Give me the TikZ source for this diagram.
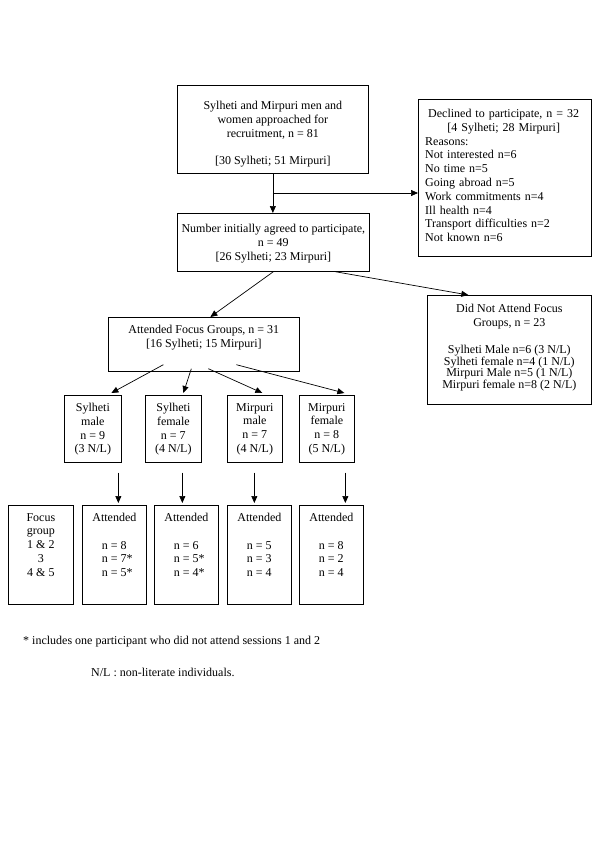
\documentclass[tikz,border=0pt]{standalone}
\usepackage{fontspec}
\setmainfont{Liberation Serif}
\usetikzlibrary{positioning,arrows.meta}
\begin{document}
\begin{tikzpicture}[x=1pt,y=1pt]
\tikzstyle{every node}+=[inner sep=0pt]
\tikzstyle{box}=[draw=black, line width=0.7pt, anchor=north west]
\tikzstyle{txt}=[align=center, font=\fontsize{12}{13.8}\selectfont]
\tikzstyle{arr}=[black, line width=0.7pt, -{Triangle[length=7pt,width=6pt]}]
\path[use as bounding box, fill=white] (0,0) rectangle (600,-849);
% recruitment
\node [box, minimum width=191pt, minimum height=88pt] (approached) at (177,-85) {};
\node [txt, below=16pt of approached.north] (approachedtxt) {Sylheti and Mirpuri men and\\women approached for\\recruitment, n = 81\\[13.8pt]{[30 Sylheti; 51 Mirpuri]}};
\node [box, minimum width=173pt, minimum height=157pt] (declined) at (418,-99) {};
\node [txt, align=left, text width=157pt, below right=10pt and 7pt of declined.north west] (declinedtxt) {{\centering Declined to participate, n = 32\\{[4 Sylheti; 28 Mirpuri]}\par}Reasons:\\Not interested n=6\\No time n=5\\Going abroad n=5\\Work commitments n=4\\Ill health n=4\\Transport difficulties n=2\\Not known n=6};
\node [box, minimum width=192pt, minimum height=58pt] (agreed) at (177,-213) {};
\node [txt, below=11pt of agreed.north] (agreedtxt) {Number initially agreed to participate,\\n = 49\\{[26 Sylheti; 23 Mirpuri]}};
% attendance
\node [box, minimum width=191pt, minimum height=54pt] (attended) at (108,-317) {};
\node [txt, below=8pt of attended.north] (attendedtxt) {Attended Focus Groups, n = 31\\{[16 Sylheti; 15 Mirpuri]}};
\node [box, minimum width=164pt, minimum height=109pt] (absent) at (427,-295) {};
\node [txt, below=9pt of absent.north] (absenttxt) {Did Not Attend Focus\\Groups, n = 23\\[13.8pt]Sylheti Male n=6 (3 N/L)\\[-2.4pt]Sylheti female n=4 (1 N/L)\\[-2.4pt]Mirpuri Male n=5 (1 N/L)\\[-2.4pt]Mirpuri female n=8 (2 N/L)};
% groups
\node [box, minimum width=57pt, minimum height=67pt] (symale) at (64,-395) {};
\node [txt, below=8pt of symale.north] (symaletxt) {Sylheti\\male\\n = 9\\(3 N/L)};
\node [box, minimum width=56pt, minimum height=67pt] (syfemale) at (145,-395) {};
\node [txt, below=8pt of syfemale.north] (syfemaletxt) {Sylheti\\female\\n = 7\\(4 N/L)};
\node [box, minimum width=55pt, minimum height=67pt] (mimale) at (227,-395) {};
\node [txt, below=8pt of mimale.north] (mimaletxt) {Mirpuri\\male\\n = 7\\(4 N/L)};
\node [box, minimum width=55pt, minimum height=67pt] (mifemale) at (299,-395) {};
\node [txt, below=8pt of mifemale.north] (mifemaletxt) {Mirpuri\\female\\n = 8\\(5 N/L)};
% sessions
\node [box, minimum width=65pt, minimum height=99pt] (focus) at (8,-505) {};
\node [txt, below=8pt of focus.north] (focustxt) {Focus\\group\\1 \& 2\\3\\4 \& 5};
\node [box, minimum width=64pt, minimum height=99pt] (att1) at (82,-505) {};
\node [txt, below=8pt of att1.north] (att1txt) {Attended\\[13.8pt]n = 8\\n = 7\rlap{*}\\n = 5\rlap{*}};
\node [box, minimum width=64pt, minimum height=99pt] (att2) at (154,-505) {};
\node [txt, below=8pt of att2.north] (att2txt) {Attended\\[13.8pt]n = 6\\n = 5\rlap{*}\\n = 4\rlap{*}};
\node [box, minimum width=64pt, minimum height=99pt] (att3) at (227,-505) {};
\node [txt, below=8pt of att3.north] (att3txt) {Attended\\[13.8pt]n = 5\\n = 3\\n = 4};
\node [box, minimum width=64pt, minimum height=99pt] (att4) at (299,-505) {};
\node [txt, below=8pt of att4.north] (att4txt) {Attended\\[13.8pt]n = 8\\n = 2\\n = 4};
% notes
\node [txt, anchor=base west] (starnote) at (23,-644) {* includes one participant who did not attend sessions 1 and 2};
\node [txt, anchor=base west] (nlnote) at (91,-676) {N/L : non-literate individuals.};
% arrows
\coordinate (fork) at (approached.south |- 0,-193);
\draw [arr] (approached.south) -- (approached.south |- agreed.north);
\draw [arr] (fork) -- (fork -| declined.west);
\draw [arr] (agreed.south) -- ([xshift=6.5pt]attended.north);
\draw [arr] ([xshift=62pt]agreed.south) -- ([xshift=-41pt]absent.north);
\draw [arr] ([shift={(-40.5pt,7pt)}]attended.south) -- ([shift={(18.5pt,2pt)}]symale.north);
\draw [arr] ([shift={(-12.5pt,3pt)}]attended.south) -- ([shift={(10pt,2pt)}]syfemale.north);
\draw [arr] ([shift={(4.5pt,3pt)}]attended.south) -- ([shift={(7.5pt,2pt)}]mimale.north);
\draw [arr] ([shift={(32.5pt,7pt)}]attended.south) -- ([shift={(17.5pt,2pt)}]mifemale.north);
\draw [arr] ([shift={(25.5pt,-10pt)}]symale.south) -- ([shift={(4pt,2pt)}]att1.north);
\draw [arr] ([shift={(9pt,-10pt)}]syfemale.south) -- ([shift={(-4pt,2pt)}]att2.north);
\draw [arr] ([shift={(-0.5pt,-10pt)}]mimale.south) -- ([shift={(-5pt,2pt)}]att3.north);
\draw [arr] ([shift={(18.5pt,-10pt)}]mifemale.south) -- ([shift={(14pt,2pt)}]att4.north);
\end{tikzpicture}
\end{document}
